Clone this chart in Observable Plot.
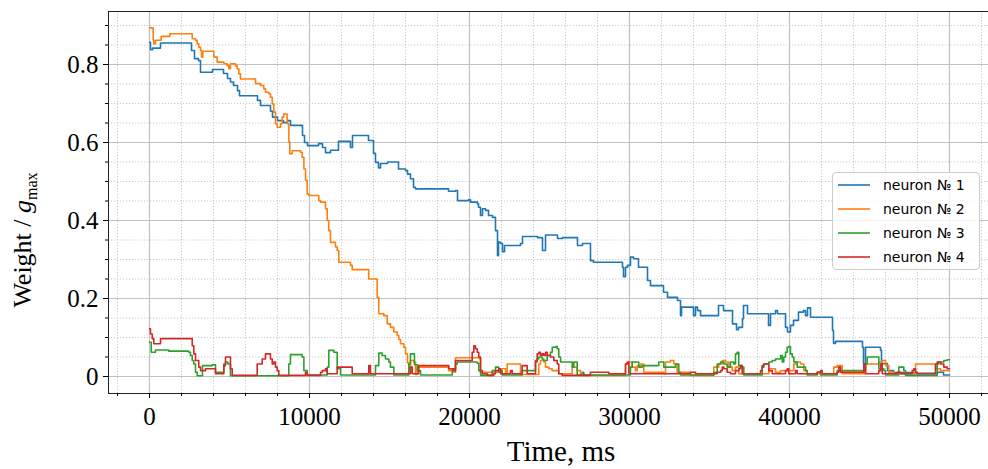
<!DOCTYPE html>
<html>
<head>
<meta charset="utf-8">
<script src="https://cdn.jsdelivr.net/npm/d3@7"></script>
<script src="https://cdn.jsdelivr.net/npm/@observablehq/plot@0.6"></script>
<style>
  body { margin: 0; background: #fff; }
  #wrap { position: relative; width: 988px; height: 469px; overflow: hidden; }
  #legend { position: absolute; left: 832px; top: 172px; width: 148px; height: 98px;
    border: 1px solid #cccccc; border-radius: 4px; background: rgba(255,255,255,0.8);
    box-sizing: border-box; font-family: "DejaVu Sans", sans-serif; font-size: 14px; color: #000; }
  .row { position: absolute; left: 0; height: 20px; display: flex; align-items: center; }
  .row svg { margin-left: 5px; margin-right: 13px; }
</style>
</head>
<body>
<div id="wrap"><div id="legend"></div></div>
<script>
// ---- data (time in ms, weight / g_max), step-wise traces ----
const names = ["neuron № 1", "neuron № 2", "neuron № 3", "neuron № 4"];
const colors = ["#1f77b4", "#ff7f0e", "#2ca02c", "#d62728"];

const neuron1 = [[0,0.857],[62,0.838],[188,0.842],[688,0.855],[2625,0.836],[2812,0.815],[3062,0.81],[3188,0.78],[3938,0.787],[4625,0.777],[4875,0.764],[5062,0.755],[5250,0.746],[5500,0.733],[5625,0.72],[6750,0.708],[6938,0.695],[7562,0.68],[7688,0.665],[8000,0.656],[8375,0.651],[8625,0.656],[8812,0.644],[9562,0.618],[9688,0.6],[9875,0.592],[10562,0.597],[10812,0.587],[11000,0.574],[11312,0.58],[11812,0.603],[12562,0.587],[12688,0.618],[13688,0.605],[14000,0.572],[14125,0.549],[14312,0.535],[14438,0.546],[14875,0.55],[15562,0.532],[16000,0.528],[16125,0.519],[16312,0.507],[16500,0.485],[16625,0.481],[18688,0.475],[19125,0.477],[19250,0.451],[19938,0.453],[20062,0.447],[20500,0.443],[20562,0.434],[20688,0.413],[20812,0.43],[21000,0.426],[21188,0.413],[21438,0.408],[21625,0.374],[21750,0.31],[21812,0.345],[21938,0.341],[22062,0.32],[22188,0.336],[23188,0.341],[23312,0.359],[24250,0.356],[24562,0.323],[24750,0.363],[25500,0.354],[25812,0.356],[26750,0.336],[27062,0.341],[27562,0.297],[27750,0.293],[29562,0.28],[29625,0.256],[29750,0.28],[29875,0.285],[30062,0.306],[30250,0.302],[30562,0.28],[31125,0.246],[31312,0.233],[32125,0.216],[32375,0.203],[33000,0.195],[33188,0.156],[33250,0.178],[34000,0.156],[34125,0.178],[34250,0.169],[34438,0.156],[35562,0.182],[35875,0.169],[36438,0.135],[36688,0.12],[36812,0.126],[37062,0.148],[37125,0.182],[37375,0.161],[38688,0.131],[38812,0.161],[39125,0.169],[39250,0.161],[39750,0.126],[39875,0.114],[40062,0.131],[40250,0.144],[40562,0.165],[40875,0.169],[41000,0.156],[41125,0.176],[41312,0.152],[42688,0.118],[42750,0.085],[42875,0.09],[44562,0.075],[44625,0.032],[44750,0.075],[45688,0.067],[45750,0.033],[46125,0.015],[46500,0.01],[47750,0.008],[49250,0.011],[49625,0.004],[50000,0.004]];

const neuron2 = [[0,0.894],[230,0.863],[270,0.853],[375,0.862],[730,0.872],[1270,0.879],[2670,0.866],[2875,0.862],[2980,0.853],[3080,0.844],[3190,0.836],[3250,0.819],[3330,0.834],[4020,0.819],[4230,0.806],[4650,0.802],[4850,0.797],[4960,0.789],[5060,0.802],[5375,0.797],[5480,0.789],[5580,0.776],[5690,0.763],[6625,0.751],[6940,0.746],[7140,0.738],[7250,0.729],[7460,0.725],[7560,0.716],[7670,0.699],[7770,0.678],[7875,0.648],[7980,0.639],[8190,0.648],[8290,0.665],[8390,0.673],[8600,0.648],[8710,0.601],[8770,0.571],[8920,0.579],[9440,0.575],[9540,0.562],[9650,0.532],[9750,0.503],[9855,0.468],[9960,0.464],[10580,0.451],[10690,0.447],[11000,0.43],[11105,0.4],[11200,0.374],[11310,0.344],[11625,0.332],[11730,0.323],[11830,0.293],[12560,0.285],[12670,0.274],[13700,0.25],[14230,0.203],[14330,0.161],[14645,0.156],[14855,0.135],[15060,0.126],[15270,0.114],[15480,0.105],[15580,0.095],[15690,0.084],[15895,0.075],[16000,0.058],[16125,0.035],[16205,0.01],[16310,0.041],[16520,0.037],[16625,0.005],[16730,0.024],[18690,0.015],[19020,0.011],[19125,0.048],[20580,0.046],[20690,0.011],[21940,0.02],[22250,0.011],[22355,0.032],[23190,0.005],[24330,0.032],[24440,0.041],[24645,0.037],[24750,0.024],[24960,0.02],[25170,0.015],[25580,0.007],[26420,0.024],[26730,0.015],[26940,0.003],[29750,0.032],[29960,0.037],[30170,0.024],[30375,0.015],[30480,0.028],[30690,0.032],[30895,0.011],[32145,0.007],[32250,0.037],[32560,0.041],[32770,0.032],[32980,0.011],[33810,0.003],[35270,0.024],[35580,0.032],[35795,0.041],[36000,0.037],[36205,0.024],[36420,0.015],[36625,0.024],[36830,0.007],[38710,0.02],[39125,0.011],[39440,0.015],[40270,0.032],[40375,0.037],[40690,0.032],[40895,0.015],[41105,0.007],[42770,0.024],[42980,0.028],[43290,0.007],[44750,0.032],[45580,0.037],[45795,0.041],[46000,0.028],[46205,0.011],[46520,0.007],[47875,0.032],[49125,0.02],[49440,0.015],[50000,0.015]];

const neuron3 = [[0,0.088],[110,0.062],[375,0.068],[1205,0.065],[2455,0.062],[2560,0.054],[2670,0.041],[2770,0.032],[2875,0.011],[2980,0.002],[3310,0.028],[3920,0.03],[4125,0.011],[4645,0.032],[4750,0.037],[4895,0.032],[5060,0.002],[8705,0.032],[8810,0.056],[9540,0.05],[9650,0.015],[9855,0.004],[11105,0.024],[11205,0.067],[11520,0.062],[11730,0.02],[11940,0.004],[14125,0.028],[14330,0.06],[14540,0.054],[14750,0.045],[14960,0.037],[15060,0.024],[15270,0.004],[16205,0.032],[16310,0.058],[16560,0.03],[16750,0.015],[16940,0.004],[18920,0.02],[19125,0.032],[19230,0.037],[20480,0.034],[20580,0.015],[20690,0.003],[21420,0.015],[21625,0.024],[21830,0.011],[21940,0.015],[22045,0.004],[23290,0.015],[24125,0.037],[24230,0.045],[24330,0.05],[24540,0.045],[24645,0.041],[24855,0.054],[25060,0.062],[25170,0.075],[25375,0.077],[25480,0.071],[25580,0.05],[25690,0.037],[26420,0.024],[26520,0.037],[26730,0.004],[27040,0.011],[27145,0.004],[30060,0.024],[30170,0.037],[30580,0.024],[30795,0.028],[31830,0.037],[32145,0.024],[32875,0.032],[33080,0.011],[33190,0.004],[35270,0.011],[35480,0.032],[35690,0.037],[35895,0.032],[36105,0.024],[36310,0.037],[36520,0.032],[36625,0.058],[36730,0.062],[36830,0.028],[37045,0.024],[37145,0.004],[38295,0.024],[38395,0.032],[38710,0.037],[38920,0.041],[39125,0.045],[39440,0.054],[39545,0.037],[39645,0.05],[39750,0.062],[39855,0.075],[39960,0.077],[40060,0.058],[40170,0.05],[40270,0.037],[40480,0.024],[41000,0.015],[41105,0.004],[41730,0.011],[41940,0.004],[42980,0.015],[44750,0.032],[44855,0.05],[45580,0.02],[45895,0.015],[46000,0.004],[46830,0.024],[47145,0.015],[47250,0.003],[49230,0.032],[49330,0.037],[49645,0.041],[49855,0.043],[50000,0.043]];

const neuron4 = [[0,0.122],[62,0.109],[170,0.097],[270,0.084],[690,0.097],[2670,0.079],[2770,0.058],[2875,0.041],[3080,0.024],[3190,0.015],[3500,0.02],[4125,0.007],[4645,0.028],[4750,0.05],[5060,0.02],[5170,0.003],[6730,0.032],[7045,0.045],[7250,0.058],[7560,0.045],[7670,0.032],[7770,0.037],[7875,0.024],[7980,0.015],[8080,0.003],[9750,0.011],[9855,0.003],[10690,0.011],[10795,0.015],[11000,0.02],[11105,0.007],[11730,0.024],[12670,0.007],[13705,0.028],[13810,0.007],[16310,0.024],[16420,0.007],[16830,0.028],[18705,0.02],[19020,0.015],[19125,0.041],[20170,0.062],[20270,0.079],[20375,0.071],[20480,0.062],[20580,0.05],[20690,0.015],[20795,0.007],[21105,0.003],[21520,0.007],[21625,0.015],[21830,0.02],[21940,0.007],[22560,0.015],[22670,0.007],[23290,0.028],[23605,0.007],[24125,0.041],[24230,0.058],[24330,0.062],[24440,0.054],[24545,0.058],[24645,0.054],[24750,0.062],[24855,0.054],[25060,0.05],[25270,0.041],[25480,0.032],[25580,0.007],[25790,0.003],[27560,0.011],[28710,0.007],[29750,0.032],[29855,0.037],[29960,0.007],[33810,0.011],[34125,0.007],[35480,0.011],[35690,0.015],[35795,0.024],[35895,0.02],[36105,0.011],[36310,0.007],[36625,0.015],[36830,0.02],[36940,0.028],[37045,0.007],[38190,0.015],[38295,0.028],[38395,0.032],[38710,0.015],[38920,0.007],[39750,0.015],[39855,0.02],[39960,0.007],[40375,0.015],[40480,0.007],[41730,0.011],[41940,0.015],[42045,0.007],[42980,0.011],[43080,0.024],[43190,0.011],[44645,0.032],[44750,0.007],[45580,0.015],[45690,0.032],[45795,0.007],[46730,0.011],[46940,0.007],[47670,0.015],[47770,0.02],[47875,0.011],[47980,0.007],[49125,0.032],[49230,0.037],[49440,0.032],[49645,0.024],[49855,0.02],[50000,0.02]];

const xTicks = [0, 10000, 20000, 30000, 40000, 50000];
const yTicks = [0, 0.2, 0.4, 0.6, 0.8];
const xMinorTicks = [-2000,2000,4000,6000,8000,12000,14000,16000,18000,22000,24000,26000,28000,32000,34000,36000,38000,42000,44000,46000,48000,52000];
const yMinorTicks = [0.05,0.1,0.15,0.25,0.3,0.35,0.45,0.5,0.55,0.65,0.7,0.75,0.85,0.9];

// ---- build table ----
const series = [neuron1, neuron2, neuron3, neuron4];
const rows = [];
series.forEach((s, i) => s.forEach(([t, w]) => rows.push({t, w, name: names[i]})));

const serif = "'Liberation Serif', 'Times New Roman', serif";

const chart = Plot.plot({
  width: 988,
  height: 469,
  marginLeft: 108,
  marginRight: 0,
  marginTop: 11,
  marginBottom: 76,
  style: { fontFamily: serif, background: "#fff", color: "#000" },
  x: { domain: [-2562.5, 52437.5] },
  y: { domain: [-17/390, 365/390] },
  color: { domain: names, range: colors },
  marks: [
    Plot.gridX(xMinorTicks, { stroke: "#c4c4c4", strokeOpacity: 1, strokeWidth: 0.9, strokeDasharray: "1.2,1.8" }),
    Plot.gridY(yMinorTicks, { stroke: "#c4c4c4", strokeOpacity: 1, strokeWidth: 0.9, strokeDasharray: "1.2,1.8" }),
    Plot.gridX(xTicks, { stroke: "#c0c0c0", strokeOpacity: 1, strokeWidth: 1.2 }),
    Plot.gridY(yTicks, { stroke: "#c0c0c0", strokeOpacity: 1, strokeWidth: 1.2 }),
    Plot.line(rows, { x: "t", y: "w", z: "name", stroke: "name", curve: "step-after", strokeWidth: 1.6 }),
    Plot.frame({ stroke: "#222", strokeWidth: 1 }),
    Plot.axisX(xTicks, { tickSize: 5, tickPadding: 9, fontSize: 25, label: null, tickFormat: d => String(d) }),
    Plot.axisX(xMinorTicks, { tickSize: 3, tickFormat: () => "", label: null }),
    Plot.axisY(yTicks, { tickSize: 5, tickPadding: 5, fontSize: 25, label: null, tickFormat: d => d === 0 ? "0" : d.toFixed(1) }),
    Plot.axisY(yMinorTicks, { tickSize: 3, tickFormat: () => "", label: null })
  ]
});

document.getElementById("wrap").prepend(chart);

// axis titles
const svg = d3.select(chart);
svg.append("text")
  .attr("x", 561).attr("y", 461)
  .attr("text-anchor", "middle")
  .attr("font-family", serif).attr("font-size", 29).attr("fill", "#000")
  .text("Time, ms");

const yl = svg.append("text")
  .attr("transform", "translate(31,240) rotate(-90)")
  .attr("text-anchor", "middle")
  .attr("font-family", serif).attr("font-size", 26).attr("fill", "#000");
yl.append("tspan").text("Weight / ");
yl.append("tspan").attr("font-style", "italic").text("g");
yl.append("tspan").attr("font-size", 16).attr("dy", "0.35em").text("max");

// legend
const legend = document.getElementById("legend");
names.forEach((n, i) => {
  const r = document.createElement("div");
  r.className = "row";
  r.style.top = (2 + i * 24) + "px";
  r.innerHTML = `<svg width="32" height="4"><line x1="0" x2="32" y1="2" y2="2" stroke="${colors[i]}" stroke-width="1.6"/></svg>`;
  const tx = document.createElement("span");
  tx.textContent = n;
  r.appendChild(tx);
  legend.appendChild(r);
});
</script>
</body>
</html>
